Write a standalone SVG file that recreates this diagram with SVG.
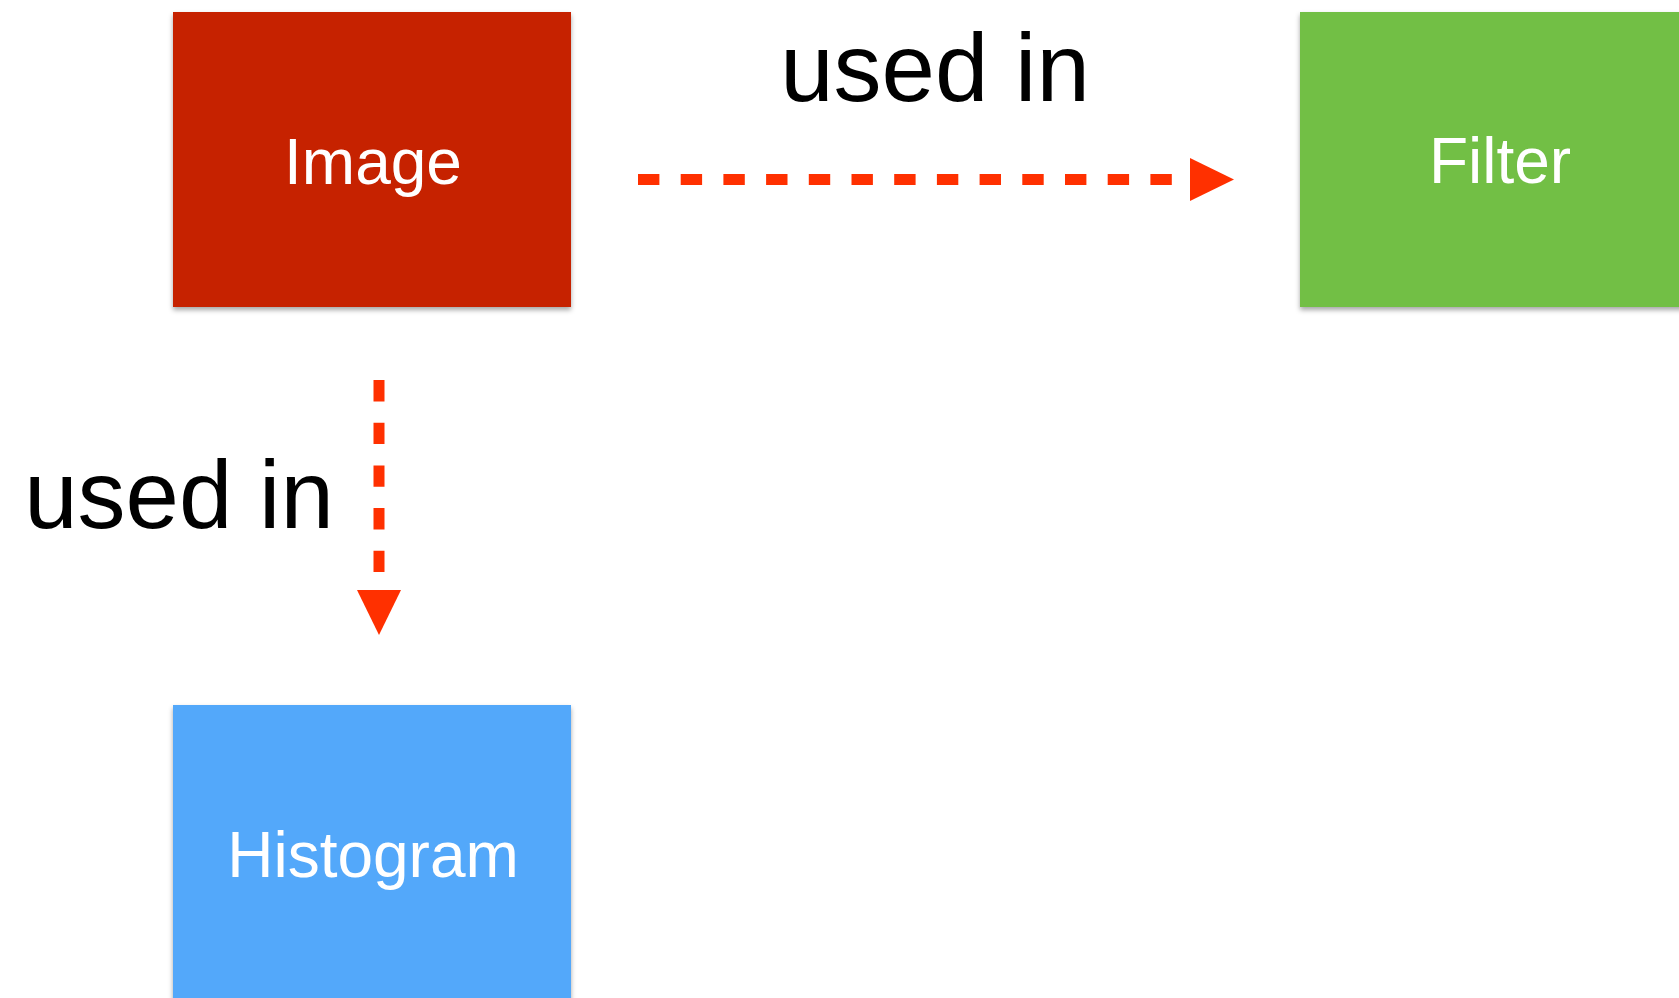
<svg xmlns="http://www.w3.org/2000/svg" width="1679" height="998" viewBox="0 0 1679 998">
  <style>
    .box-label { font-family: "Liberation Sans", Arial, sans-serif; font-size: 64px; fill: #ffffff; text-anchor: middle; }
    .edge-label { font-family: "Liberation Sans", Arial, sans-serif; font-size: 96px; fill: #000000; }
    .dash { stroke: #ff3000; stroke-width: 11; fill: none; stroke-dasharray: 21.4 21.3; }
    .head { fill: #ff3000; }
  </style>
  <defs>
    <filter id="shadow" x="-5%" y="-5%" width="110%" height="115%">
      <feDropShadow dx="0" dy="3" stdDeviation="2.5" flood-color="#000000" flood-opacity="0.35"/>
    </filter>
  </defs>

  <rect x="0" y="0" width="1679" height="998" fill="#ffffff"/>

  <!-- nodes -->
  <g id="node-image">
    <rect x="173" y="12" width="398" height="295" fill="#c62406" filter="url(#shadow)"/>
    <text class="box-label" x="373" y="184">Image</text>
  </g>

  <g id="node-filter">
    <rect x="1300" y="12" width="398" height="295" fill="#72bf44" filter="url(#shadow)"/>
    <text class="box-label" x="1500" y="183">Filter</text>
  </g>

  <g id="node-histogram">
    <rect x="173" y="705" width="398" height="300" fill="#53a8fa" filter="url(#shadow)"/>
    <text class="box-label" x="373" y="877">Histogram</text>
  </g>

  <!-- connectors -->
  <g id="connectors">
    <g id="edge-image-filter">
      <line class="dash" x1="638" y1="179.5" x2="1172" y2="179.5"/>
      <polygon class="head" points="1190,158 1234,179.5 1190,201"/>
      <text class="edge-label" x="935" y="101" text-anchor="middle">used in</text>
    </g>
    <g id="edge-image-histogram">
      <line class="dash" x1="379" y1="380" x2="379" y2="572"/>
      <polygon class="head" points="357,590 401,590 379,635"/>
      <text class="edge-label" x="179" y="528" text-anchor="middle">used in</text>
    </g>
  </g>
</svg>
